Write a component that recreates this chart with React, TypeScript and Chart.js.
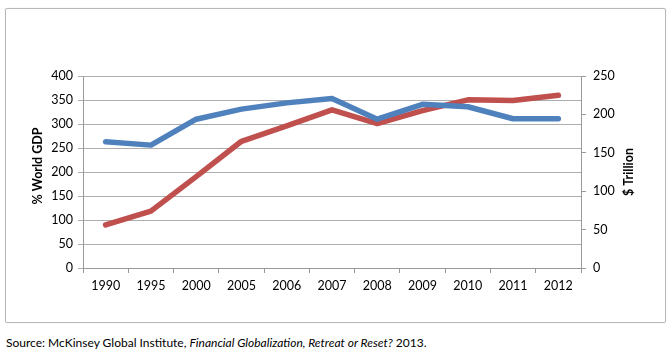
import React, { useEffect, useRef } from "react";
import { Chart, registerables } from "chart.js";
Chart.register(...registerables);

const years = ["1990", "1995", "2000", "2005", "2006", "2007", "2008", "2009", "2010", "2011", "2012"];
const pctWorldGdp = [263, 256, 310, 331, 344, 353, 310, 341, 336, 311, 311];
const dollarTrillion = [56, 74, 119, 165, 185, 206, 188, 205, 219, 218, 225];
const leftAxisTitle = "% World GDP";
const rightAxisTitle = "$ Trillion";

const FONT = "Lato, 'Open Sans', sans-serif";

const titlePlugin = {
  id: "axisTitles",
  afterDraw(chart: any) {
    const ctx = chart.ctx;
    const area = chart.chartArea;
    const cy = (area.top + area.bottom) / 2;
    ctx.save();
    ctx.fillStyle = "#000";
    ctx.font = `bold 12.5px ${FONT}`;
    ctx.textAlign = "center";
    ctx.textBaseline = "middle";
    ctx.translate(38, cy - 6);
    ctx.rotate(-Math.PI / 2);
    ctx.fillText(leftAxisTitle, 0, 0);
    ctx.restore();
    ctx.save();
    ctx.fillStyle = "#000";
    ctx.font = `bold 12.5px ${FONT}`;
    ctx.textAlign = "center";
    ctx.textBaseline = "middle";
    ctx.translate(629, cy);
    ctx.rotate(-Math.PI / 2);
    ctx.fillText(rightAxisTitle, 0, 0);
    ctx.restore();
  },
};

export default function App() {
  const ref = useRef<HTMLCanvasElement>(null);
  useEffect(() => {
    document.body.style.margin = "0";
    const chart = new Chart(ref.current!, {
      type: "line",
      data: {
        labels: years,
        datasets: [
          {
            label: leftAxisTitle,
            data: pctWorldGdp,
            yAxisID: "y",
            borderColor: "#4F81BD",
            backgroundColor: "#4F81BD",
            borderWidth: 5.5,
            pointRadius: 0,
            tension: 0,
            borderCapStyle: "round",
            borderJoinStyle: "round",
          },
          {
            label: rightAxisTitle,
            data: dollarTrillion,
            yAxisID: "y1",
            borderColor: "#C0504D",
            backgroundColor: "#C0504D",
            borderWidth: 5.5,
            pointRadius: 0,
            tension: 0,
            borderCapStyle: "round",
            borderJoinStyle: "round",
          },
        ],
      },
      options: {
        animation: false,
        responsive: false,
        maintainAspectRatio: false,
        layout: { padding: { top: 76, left: 0, right: 0, bottom: 0 } },
        plugins: { legend: { display: false }, tooltip: { enabled: false } },
        scales: {
          x: {
            offset: true,
            grid: { drawOnChartArea: false, drawTicks: true, tickLength: 5, offset: true, color: "#9a9a9a" },
            border: { display: true, color: "#9a9a9a" },
            ticks: { color: "#000", font: { family: FONT, size: 12.5 }, padding: 5, maxRotation: 0 },
            afterFit: (s: any) => { s.height = 62; },
          },
          y: {
            position: "left",
            min: 0,
            max: 400,
            ticks: { stepSize: 50, color: "#000", font: { family: FONT, size: 12.5 }, padding: 5 },
            grid: { color: "#adadad", tickLength: 5, drawTicks: true },
            border: { display: true, color: "#9a9a9a" },
            afterFit: (s: any) => { s.width = 83; },
          },
          y1: {
            position: "right",
            min: 0,
            max: 250,
            ticks: { stepSize: 50, color: "#000", font: { family: FONT, size: 12.5 }, padding: 7 },
            grid: { drawOnChartArea: false, tickLength: 5, color: "#9a9a9a" },
            border: { display: true, color: "#9a9a9a" },
            afterFit: (s: any) => { s.width = 91; },
          },
        },
      },
      plugins: [titlePlugin],
    });
    return () => chart.destroy();
  }, []);
  return (
    <div style={{ position: "fixed", left: 0, top: 0, width: 672, height: 359, background: "#fff" }}>
      <div
        style={{
          position: "absolute",
          left: 5,
          top: 8,
          width: 659,
          height: 313,
          border: "1px solid #b8b8b8",
          borderRadius: 2,
          boxShadow: "0 0 1px #ccc",
        }}
      />
      <canvas ref={ref} width={672} height={330} style={{ position: "absolute", left: 0, top: 0 }} />
      <div
        style={{
          position: "absolute",
          left: 6,
          top: 335,
          fontFamily: FONT,
          fontSize: 12,
          color: "#000",
          whiteSpace: "nowrap",
        }}
      >
        Source: McKinsey Global Institute, <i>Financial Globalization, Retreat or Reset?</i> 2013.
      </div>
    </div>
  );
}
